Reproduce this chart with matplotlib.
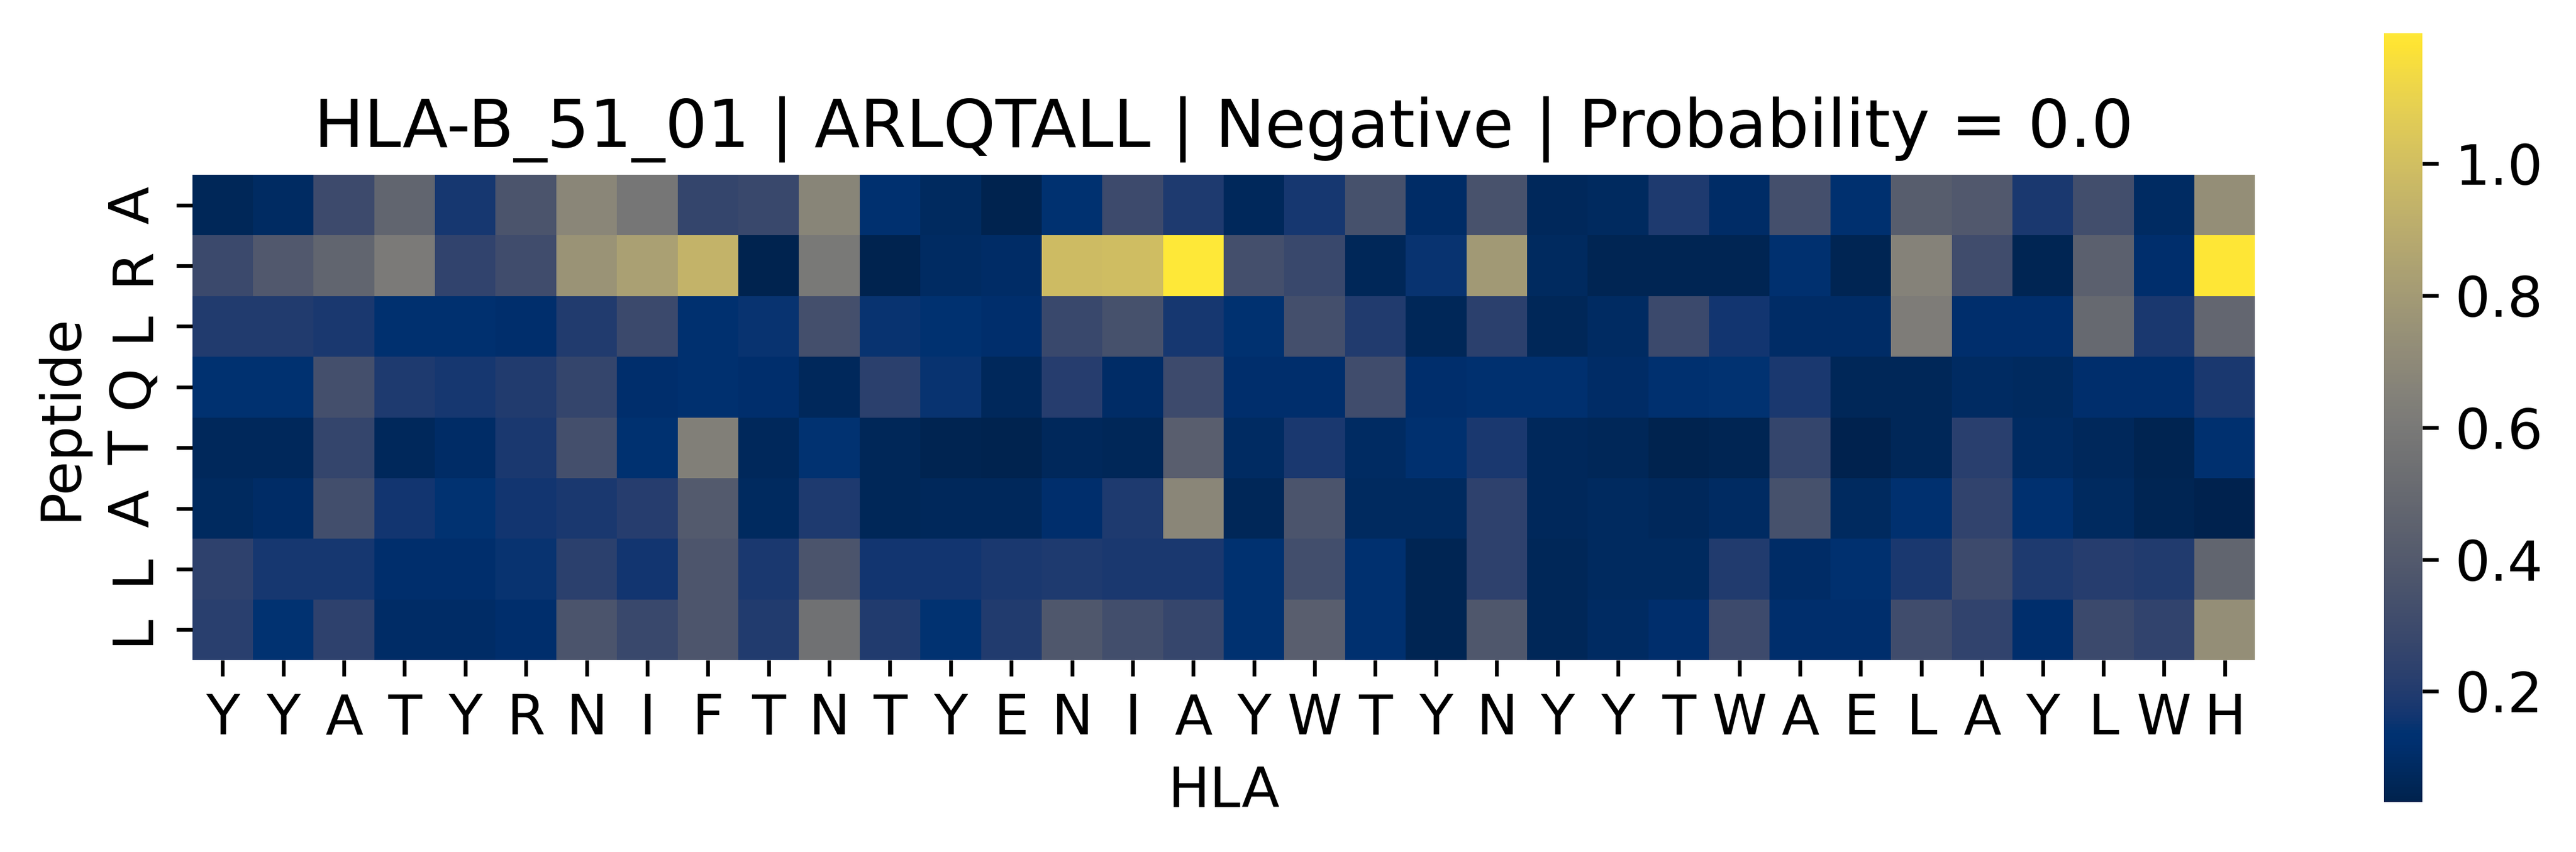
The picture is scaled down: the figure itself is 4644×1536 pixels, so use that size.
import numpy as np
import pandas as pd
import matplotlib
matplotlib.use('Agg')
import matplotlib.pyplot as plt
import seaborn as sns

hla = list('YYATYRNIFTNTYENIAYWTYNYYTWAELAYLWH')
peptide = list('ARLQTALL')

# one list per peptide position, one value per HLA residue
row_A1 = [0.06, 0.09, 0.30, 0.47, 0.17, 0.36, 0.68, 0.58, 0.26, 0.28, 0.67, 0.12,
          0.08, 0.04, 0.13, 0.30, 0.19, 0.07, 0.17, 0.34, 0.10, 0.35, 0.07, 0.08,
          0.19, 0.10, 0.33, 0.12, 0.42, 0.39, 0.18, 0.32, 0.09, 0.73]
row_R2 = [0.29, 0.39, 0.47, 0.61, 0.25, 0.31, 0.76, 0.83, 0.94, 0.04, 0.60, 0.04,
          0.09, 0.10, 0.98, 0.99, 1.198, 0.33, 0.28, 0.06, 0.15, 0.79, 0.08, 0.05,
          0.05, 0.05, 0.12, 0.05, 0.66, 0.31, 0.05, 0.44, 0.11, 1.19]
row_L3 = [0.20, 0.20, 0.18, 0.12, 0.12, 0.11, 0.20, 0.29, 0.12, 0.15, 0.33, 0.15,
          0.13, 0.11, 0.28, 0.34, 0.17, 0.13, 0.33, 0.20, 0.06, 0.23, 0.06, 0.09,
          0.29, 0.16, 0.10, 0.10, 0.62, 0.11, 0.11, 0.50, 0.18, 0.48]
row_Q4 = [0.13, 0.13, 0.33, 0.19, 0.17, 0.20, 0.26, 0.11, 0.12, 0.11, 0.07, 0.23,
          0.15, 0.07, 0.21, 0.10, 0.30, 0.11, 0.11, 0.31, 0.11, 0.12, 0.12, 0.10,
          0.12, 0.14, 0.18, 0.06, 0.06, 0.09, 0.08, 0.11, 0.11, 0.18]
row_T5 = [0.07, 0.07, 0.26, 0.07, 0.10, 0.18, 0.33, 0.13, 0.64, 0.07, 0.14, 0.06,
          0.045, 0.04, 0.07, 0.06, 0.43, 0.09, 0.18, 0.09, 0.12, 0.18, 0.07, 0.06,
          0.04, 0.05, 0.26, 0.035, 0.06, 0.22, 0.09, 0.07, 0.045, 0.12]
row_A6 = [0.08, 0.10, 0.32, 0.16, 0.14, 0.16, 0.18, 0.21, 0.40, 0.08, 0.19, 0.06,
          0.07, 0.07, 0.11, 0.19, 0.68, 0.06, 0.36, 0.08, 0.08, 0.24, 0.07, 0.08,
          0.07, 0.09, 0.34, 0.08, 0.12, 0.25, 0.12, 0.08, 0.05, 0.032]
row_L7 = [0.24, 0.17, 0.17, 0.11, 0.11, 0.15, 0.23, 0.16, 0.37, 0.18, 0.36, 0.16,
          0.16, 0.18, 0.19, 0.18, 0.18, 0.13, 0.32, 0.12, 0.05, 0.24, 0.06, 0.08,
          0.08, 0.20, 0.10, 0.12, 0.18, 0.30, 0.19, 0.21, 0.20, 0.47]
row_L8 = [0.22, 0.14, 0.24, 0.10, 0.10, 0.11, 0.36, 0.28, 0.37, 0.20, 0.55, 0.20,
          0.14, 0.20, 0.38, 0.32, 0.27, 0.13, 0.43, 0.12, 0.05, 0.38, 0.06, 0.09,
          0.11, 0.30, 0.11, 0.11, 0.31, 0.25, 0.11, 0.29, 0.25, 0.73]

rows = [row_A1, row_R2, row_L3, row_Q4, row_T5, row_A6, row_L7, row_L8]
df = pd.DataFrame(np.array(rows), index=peptide, columns=hla)

plt.rcParams['font.size'] = 12
fig = plt.figure(figsize=(7.74, 2.56), dpi=600)
ax = fig.add_axes([346/4644, 1 - 1190/1536, 3720/4644, 875/1536])
cax = fig.add_axes([4298/4644, 1 - 1446/1536, 69/4644, 1386/1536])

sns.heatmap(df, cmap='cividis', square=True, ax=ax, cbar_ax=cax,
            xticklabels=hla, yticklabels=peptide)
ax.set_position([346/4644, 1 - 1190/1536, 3720/4644, 875/1536])
ax.set_xticklabels(hla, rotation=0)
ax.set_yticklabels(peptide, rotation=90, va='center')
ax.set_xlabel('HLA')
ax.set_ylabel('Peptide')
ax.set_title('HLA-B_51_01 | ARLQTALL | Negative | Probability = 0.0')

fig.savefig('out.png', dpi=600)
